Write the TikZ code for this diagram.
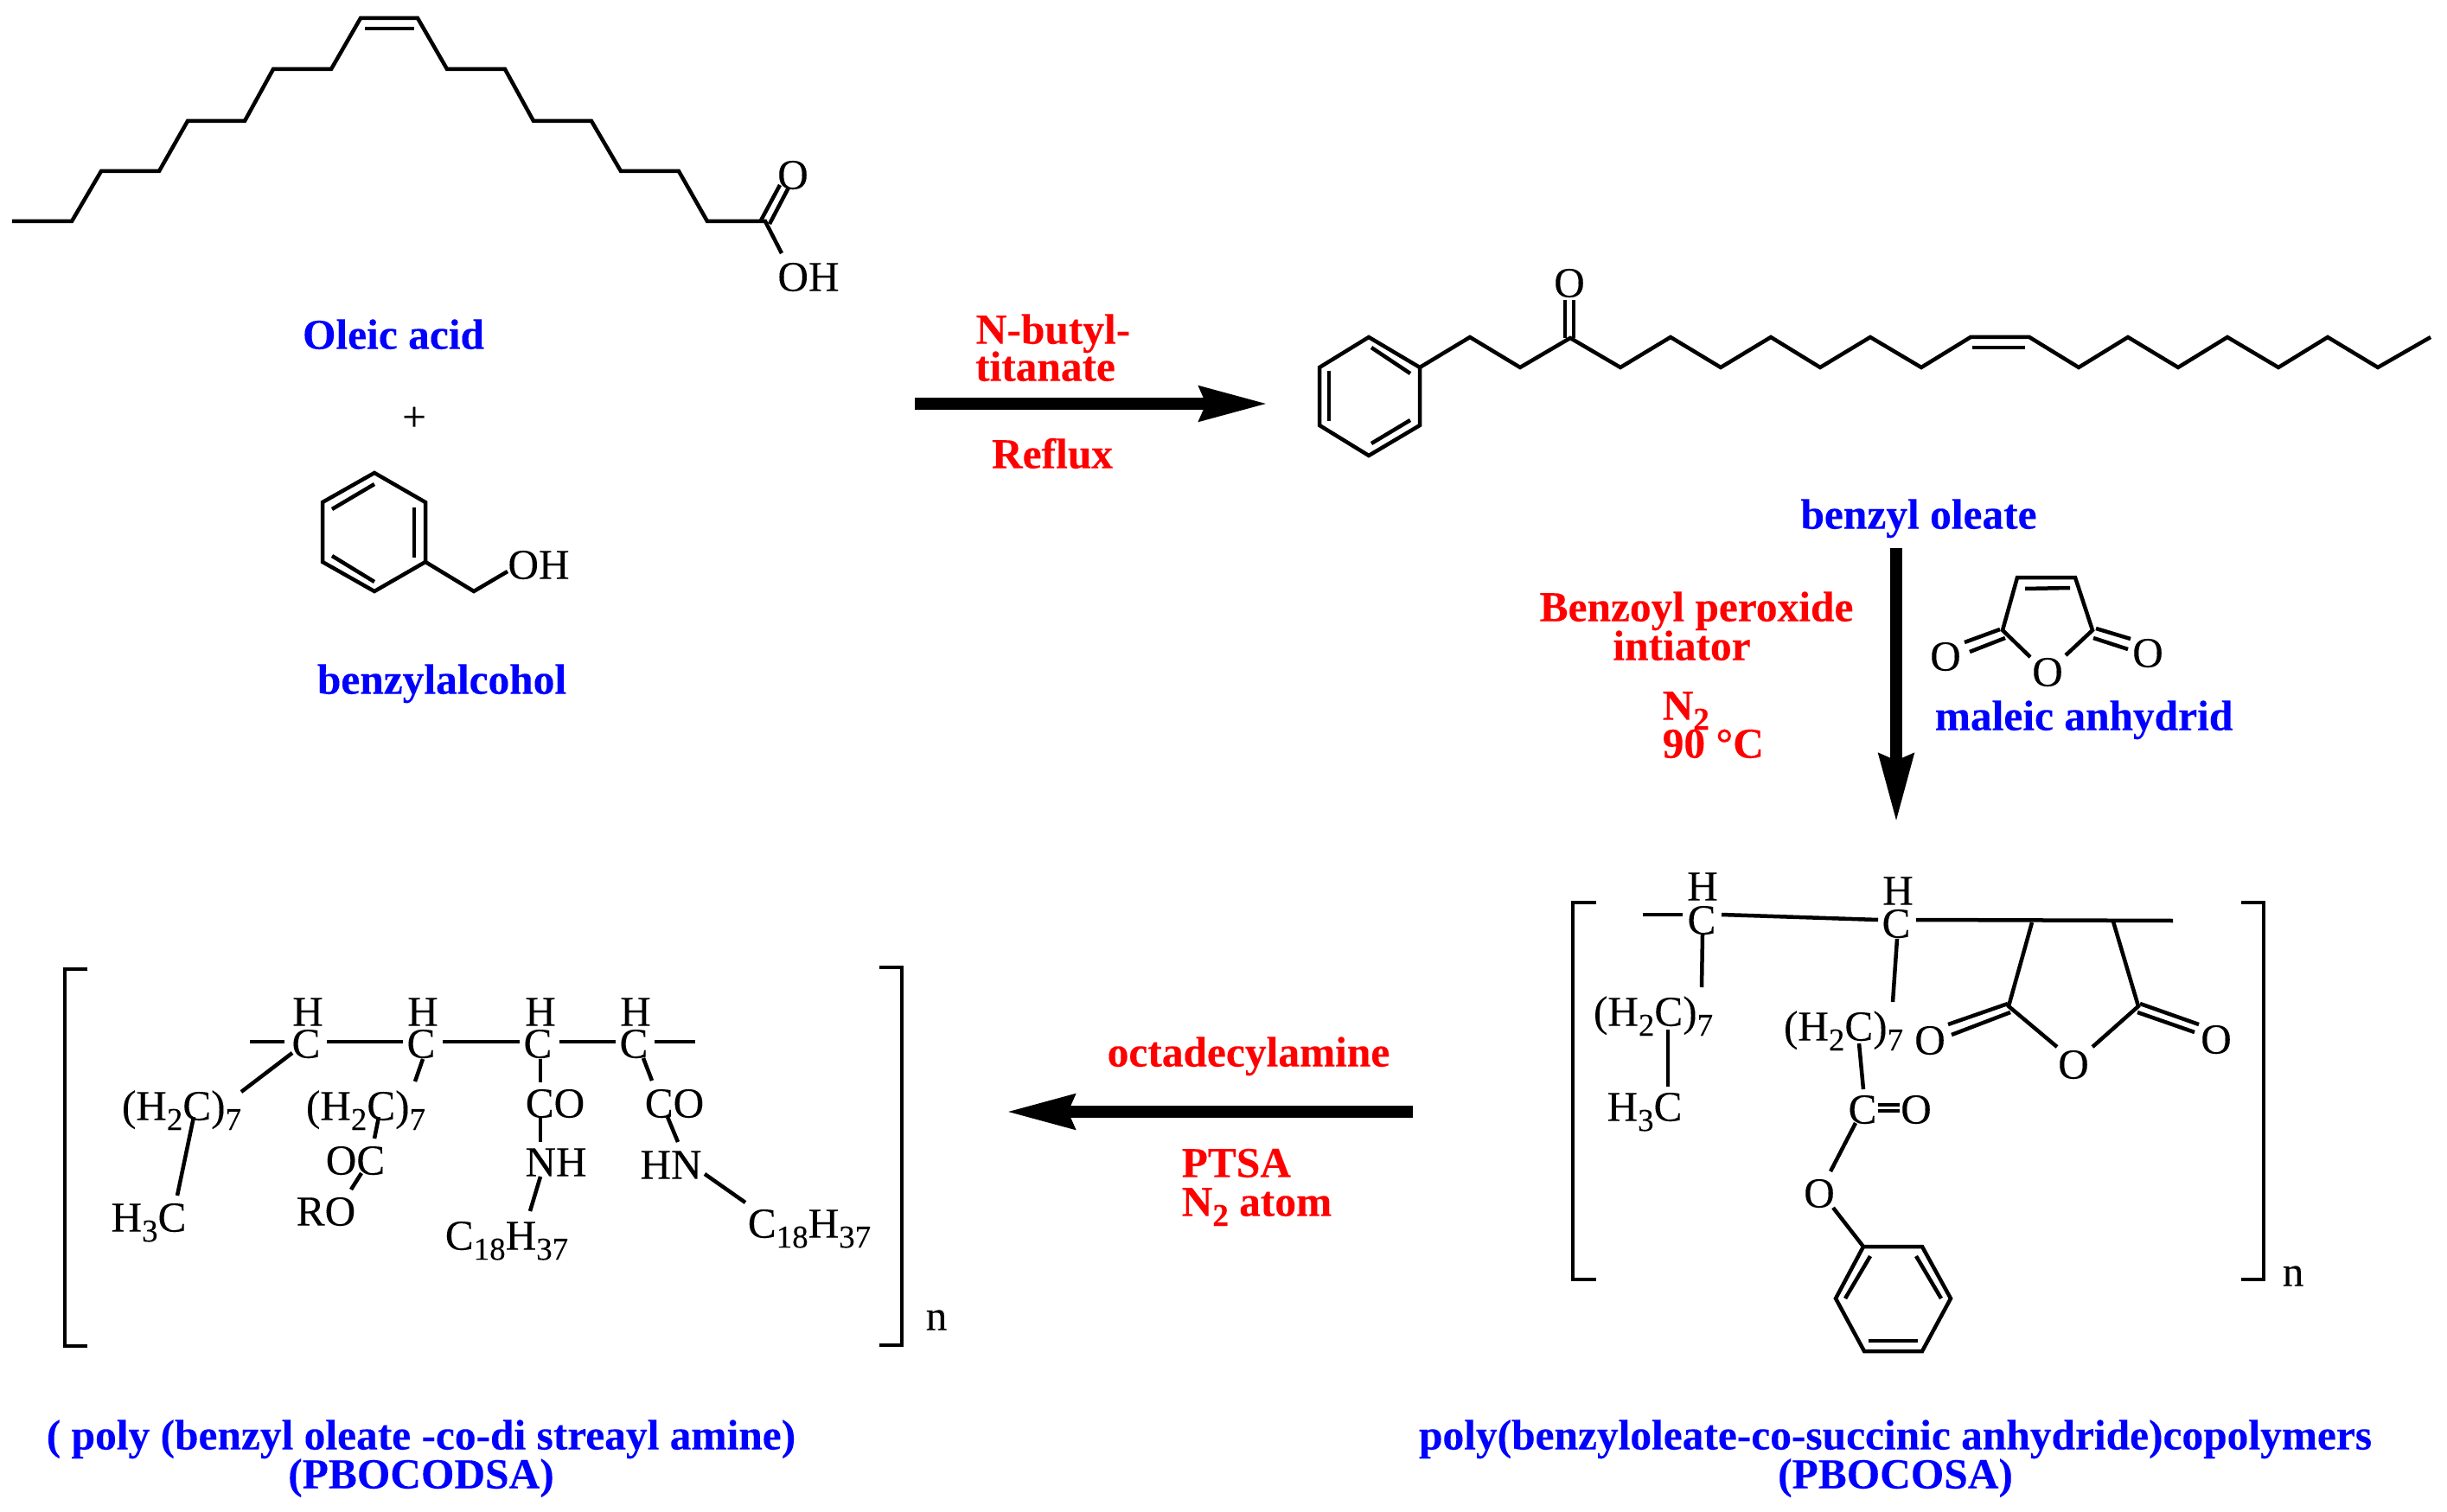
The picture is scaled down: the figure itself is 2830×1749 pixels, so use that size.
\documentclass[tikz,border=0pt]{standalone}
\usepackage{fontspec}
\setmainfont[FakeBold=0.15]{Liberation Serif}
\usetikzlibrary{arrows.meta}
\newcommand{\dn}[1]{\raisebox{-3.3pt}{\fontsize{10.5}{10.5}\selectfont #1}}
\tikzset{
    bond/.style={line width=0.045cm},
    bigarrow/.style={line width=0.14cm, -{Stealth[length=0.78cm, width=0.39cm, inset=0.07cm]}},
    atom/.style={inner sep=0pt, text height=10pt, text depth=0pt, font=\fontsize{14}{14}\selectfont},
    bluelabel/.style={atom, text=blue, font=\fontsize{14.05}{14}\selectfont\bfseries},
    redlabel/.style={atom, text=red, font=\fontsize{14.05}{14}\selectfont\bfseries}
}

\begin{document}
\begin{tikzpicture}[x=0.01cm, y=-0.01cm]
        \useasboundingbox (0,0) rectangle (2830,1749);

        % Oleic acid
        \foreach \i/\x/\y in {1/14/256, 2/83/256, 3/117/198, 4/184/198, 5/217/140, 6/283/140,
            7/316/80, 8/383/80, 9/417/21, 10/483/21, 11/517/80, 12/584/80, 13/617/140,
            14/684/140, 15/718/198, 16/785/198, 17/818/256, 18/885/256}
            \coordinate (ol\i) at (\x,\y);
        \coordinate (olinA) at (422,33);
        \coordinate (olinB) at (479,33);
        \coordinate (olcoA) at (880,255);
        \coordinate (olcoB) at (902,214);
        \coordinate (olcoC) at (890,259);
        \coordinate (olcoD) at (912,217);
        \coordinate (olohE) at (904,293);
        \node[atom] (olO) at (917,201) {O};
        \node[atom] (olOH) at (935,319) {OH};
        \draw[bond] (ol1) \foreach \i in {2,...,18} {-- (ol\i)} -- (olohE);
        \draw[bond] (olinA) -- (olinB);
        \draw[bond] (olcoA) -- (olcoB);
        \draw[bond] (olcoC) -- (olcoD);
        \node[bluelabel] (oleicname) at (455,386) {Oleic acid};
        \node[atom] (plus) at (479,481) {+};

        % Benzyl alcohol
        \foreach \i/\x/\y in {1/433/547, 2/492/581, 3/492/650, 4/433/684, 5/373/650, 6/373/581}
            \coordinate (ba\i) at (\x,\y);
        \coordinate (bach) at (548,684);
        \coordinate (baend) at (587,661);
        \coordinate (bainA) at (384,589);
        \coordinate (bainB) at (433,560);
        \coordinate (bainC) at (479,587);
        \coordinate (bainD) at (479,645);
        \coordinate (bainE) at (384,643);
        \coordinate (bainF) at (433,673);
        \draw[bond] (ba1) -- (ba2) -- (ba3) -- (ba4) -- (ba5) -- (ba6) -- cycle;
        \draw[bond] (ba3) -- (bach) -- (baend);
        \draw[bond] (bainA) -- (bainB);
        \draw[bond] (bainC) -- (bainD);
        \draw[bond] (bainE) -- (bainF);
        \node[atom] (baOH) at (623,652) {OH};
        \node[bluelabel] (baname) at (511,785) {benzylalcohol};

        % First step
        \coordinate (stepAs) at (1058,467);
        \coordinate (stepAe) at (1466,467);
        \draw[bigarrow] (stepAs) -- (stepAe);
        \node[redlabel] (butyl) at (1218,380) {N-butyl-};
        \node[redlabel] (titan) at (1209,423) {titanate};
        \node[redlabel] (reflux) at (1217,524) {Reflux};

        % Benzyl oleate
        \foreach \i/\x/\y in {1/1583/390, 2/1642/425, 3/1642/492, 4/1583/527, 5/1526/492, 6/1526/425}
            \coordinate (be\i) at (\x,\y);
        \foreach \i/\x/\y in {1/1700/390, 2/1758/425, 3/1816/391, 4/1874/425, 5/1932/390,
            6/1990/425, 7/2048/390, 8/2105/425, 9/2163/390, 10/2222/425, 11/2279/390,
            12/2347/390, 13/2404/425, 14/2461/390, 15/2519/425, 16/2576/390, 17/2635/425,
            18/2692/390, 19/2750/425, 20/2811/390}
            \coordinate (bo\i) at (\x,\y);
        \coordinate (beinA) at (1586,402);
        \coordinate (beinB) at (1631,432);
        \coordinate (beinC) at (1537,429);
        \coordinate (beinD) at (1537,487);
        \coordinate (beinE) at (1586,513);
        \coordinate (beinF) at (1631,486);
        \coordinate (boinA) at (2281,402);
        \coordinate (boinB) at (2342,402);
        \coordinate (bocoA) at (1810,391);
        \coordinate (bocoB) at (1810,347);
        \coordinate (bocoC) at (1820,391);
        \coordinate (bocoD) at (1820,347);
        \draw[bond] (be1) -- (be2) -- (be3) -- (be4) -- (be5) -- (be6) -- cycle;
        \draw[bond] (be2) \foreach \i in {1,...,20} {-- (bo\i)};
        \draw[bond] (beinA) -- (beinB);
        \draw[bond] (beinC) -- (beinD);
        \draw[bond] (beinE) -- (beinF);
        \draw[bond] (boinA) -- (boinB);
        \draw[bond] (bocoA) -- (bocoB);
        \draw[bond] (bocoC) -- (bocoD);
        \node[atom] (boO) at (1815,326) {O};
        \node[bluelabel] (boname) at (2219,594) {benzyl oleate};

        % Second step
        \coordinate (stepBs) at (2193,634);
        \coordinate (stepBe) at (2193,951);
        \draw[bigarrow] (stepBs) -- (stepBe);
        \node[redlabel] (benzoyl) at (1962,701) {Benzoyl peroxide};
        \node[redlabel] (initr) at (1945,746) {intiator};
        \node[redlabel, anchor=west] (ntwo) at (1922,815) {N\dn{2}};
        \node[redlabel, anchor=west] (ninety) at (1922,859) {90 °C};

        % Maleic anhydride
        \coordinate (maA) at (2333,668);
        \coordinate (maB) at (2400,668);
        \coordinate (maC) at (2316,729);
        \coordinate (maD) at (2420,729);
        \coordinate (maE) at (2348,760);
        \coordinate (maF) at (2389,758);
        \coordinate (mainA) at (2342,681);
        \coordinate (mainB) at (2394,680);
        \coordinate (malA) at (2272,743);
        \coordinate (malB) at (2313,728);
        \coordinate (malC) at (2278,754);
        \coordinate (malD) at (2319,738);
        \coordinate (marA) at (2424,727);
        \coordinate (marB) at (2464,739);
        \coordinate (marC) at (2421,738);
        \coordinate (marD) at (2461,751);
        \draw[bond] (maE) -- (maC) -- (maA) -- (maB) -- (maD) -- (maF);
        \draw[bond] (mainA) -- (mainB);
        \draw[bond] (malA) -- (malB);
        \draw[bond] (malC) -- (malD);
        \draw[bond] (marA) -- (marB);
        \draw[bond] (marC) -- (marD);
        \node[atom] (maOl) at (2250,758) {O};
        \node[atom] (maOc) at (2368,776) {O};
        \node[atom] (maOr) at (2484,754) {O};
        \node[bluelabel] (maname) at (2410,827) {maleic anhydrid};

        % PBOCOSA brackets
        \coordinate (rbA) at (1846,1044);
        \coordinate (rbB) at (1819,1044);
        \coordinate (rbC) at (1819,1480);
        \coordinate (rbD) at (1846,1480);
        \coordinate (rbE) at (2592,1044);
        \coordinate (rbF) at (2618,1044);
        \coordinate (rbG) at (2618,1480);
        \coordinate (rbH) at (2592,1480);
        \draw[bond] (rbA) -- (rbB) -- (rbC) -- (rbD);
        \draw[bond] (rbE) -- (rbF) -- (rbG) -- (rbH);
        \node[atom] (rbn) at (2652,1470) {n};

        % PBOCOSA backbone and ring
        \node[atom] (rHa) at (1969,1024) {H};
        \node[atom] (rCa) at (1968,1063) {C};
        \node[atom] (rHb) at (2195,1029) {H};
        \node[atom] (rCb) at (2193,1067) {C};
        \coordinate (rdA) at (1900,1058);
        \coordinate (rdB) at (1946,1058);
        \coordinate (rdC) at (1991,1058);
        \coordinate (rdD) at (2172,1064);
        \coordinate (rdE) at (2216,1064);
        \coordinate (rdF) at (2513,1065);
        \draw[bond] (rdA) -- (rdB);
        \draw[bond] (rdC) -- (rdD);
        \draw[bond] (rdE) -- (rdF);
        \coordinate (riA) at (2350,1067);
        \coordinate (riB) at (2444,1066);
        \coordinate (riC) at (2323,1164);
        \coordinate (riD) at (2473,1164);
        \coordinate (riE) at (2379,1211);
        \coordinate (riF) at (2420,1211);
        \draw[bond] (riA) -- (riC) -- (riE);
        \draw[bond] (riB) -- (riD) -- (riF);
        \coordinate (rlA) at (2322,1161);
        \coordinate (rlB) at (2253,1185);
        \coordinate (rlC) at (2325,1171);
        \coordinate (rlD) at (2257,1197);
        \coordinate (rrA) at (2475,1161);
        \coordinate (rrB) at (2543,1185);
        \coordinate (rrC) at (2472,1171);
        \coordinate (rrD) at (2538,1194);
        \draw[bond] (rlA) -- (rlB);
        \draw[bond] (rlC) -- (rlD);
        \draw[bond] (rrA) -- (rrB);
        \draw[bond] (rrC) -- (rrD);
        \node[atom] (rOc) at (2398,1230) {O};
        \node[atom] (rOl) at (2232,1202) {O};
        \node[atom] (rOr) at (2563,1201) {O};

        % PBOCOSA side chains
        \node[atom] (rcha) at (1912,1169) {(H\dn{2}C)\dn{7}};
        \node[atom] (rmet) at (1902,1279) {H\dn{3}C};
        \node[atom] (rchb) at (2132,1186) {(H\dn{2}C)\dn{7}};
        \node[atom] (rCo) at (2154,1282) {C};
        \node[atom] (rOo) at (2216,1282) {O};
        \node[atom] (rOe) at (2104,1379) {O};
        \coordinate (rsA) at (1969,1081);
        \coordinate (rsB) at (1968,1142);
        \coordinate (rsC) at (1929,1191);
        \coordinate (rsD) at (1929,1257);
        \coordinate (rsE) at (2194,1086);
        \coordinate (rsF) at (2189,1159);
        \coordinate (rsG) at (2150,1207);
        \coordinate (rsH) at (2155,1260);
        \coordinate (rsI) at (2172,1278);
        \coordinate (rsJ) at (2197,1278);
        \coordinate (rsK) at (2172,1285);
        \coordinate (rsL) at (2197,1285);
        \coordinate (rsM) at (2146,1299);
        \coordinate (rsN) at (2117,1355);
        \coordinate (rsO) at (2120,1397);
        \draw[bond] (rsA) -- (rsB);
        \draw[bond] (rsC) -- (rsD);
        \draw[bond] (rsE) -- (rsF);
        \draw[bond] (rsG) -- (rsH);
        \draw[bond] (rsI) -- (rsJ);
        \draw[bond] (rsK) -- (rsL);
        \draw[bond] (rsM) -- (rsN);
        \foreach \i/\x/\y in {1/2155/1442, 2/2223/1442, 3/2256/1502, 4/2223/1563, 5/2156/1563, 6/2123/1502}
            \coordinate (rp\i) at (\x,\y);
        \coordinate (rpinA) at (2163,1453);
        \coordinate (rpinB) at (2134,1502);
        \coordinate (rpinC) at (2216,1453);
        \coordinate (rpinD) at (2245,1502);
        \coordinate (rpinE) at (2161,1551);
        \coordinate (rpinF) at (2218,1551);
        \draw[bond] (rsO) -- (rp1);
        \draw[bond] (rp1) -- (rp2) -- (rp3) -- (rp4) -- (rp5) -- (rp6) -- cycle;
        \draw[bond] (rpinA) -- (rpinB);
        \draw[bond] (rpinC) -- (rpinD);
        \draw[bond] (rpinE) -- (rpinF);
        \node[bluelabel] (rname) at (2192,1659) {poly(benzyloleate-co-succinic anhydride)copolymers};
        \node[bluelabel] (rshort) at (2192,1704) {(PBOCOSA)};

        % Third step
        \coordinate (stepCs) at (1634,1286);
        \coordinate (stepCe) at (1164,1286);
        \draw[bigarrow] (stepCs) -- (stepCe);
        \node[redlabel] (octa) at (1444,1216) {octadecylamine};
        \node[redlabel, anchor=west] (ptsa) at (1366,1344) {PTSA};
        \node[redlabel, anchor=west] (ntwoatom) at (1366,1389) {N\dn{2} atom};

        % PBOCODSA brackets
        \coordinate (lbA) at (101,1121);
        \coordinate (lbB) at (75,1121);
        \coordinate (lbC) at (75,1557);
        \coordinate (lbD) at (101,1557);
        \coordinate (lbE) at (1017,1119);
        \coordinate (lbF) at (1043,1119);
        \coordinate (lbG) at (1043,1556);
        \coordinate (lbH) at (1017,1556);
        \draw[bond] (lbA) -- (lbB) -- (lbC) -- (lbD);
        \draw[bond] (lbE) -- (lbF) -- (lbG) -- (lbH);
        \node[atom] (lbn) at (1083,1521) {n};

        % PBOCODSA backbone
        \node[atom] (lHa) at (356,1169) {H};
        \node[atom] (lCa) at (354,1206) {C};
        \node[atom] (lHb) at (489,1169) {H};
        \node[atom] (lCb) at (487,1206) {C};
        \node[atom] (lHc) at (625,1169) {H};
        \node[atom] (lCc) at (622,1206) {C};
        \node[atom] (lHd) at (735,1169) {H};
        \node[atom] (lCd) at (733,1206) {C};
        \foreach \n/\x in {A/289, B/329, C/378, D/466, E/512, F/601, G/647, H/712, I/757, J/804}
            \coordinate (ld\n) at (\x,1205);
        \draw[bond] (ldA) -- (ldB);
        \draw[bond] (ldC) -- (ldD);
        \draw[bond] (ldE) -- (ldF);
        \draw[bond] (ldG) -- (ldH);
        \draw[bond] (ldI) -- (ldJ);

        % PBOCODSA side chains
        \node[atom] (lcha) at (210,1278) {(H\dn{2}C)\dn{7}};
        \node[atom] (lmet) at (172,1407) {H\dn{3}C};
        \node[atom] (lchb) at (423,1278) {(H\dn{2}C)\dn{7}};
        \node[atom] (lOC) at (411,1341) {OC};
        \node[atom] (lRO) at (377,1400) {RO};
        \node[atom] (lCOa) at (642,1275) {CO};
        \node[atom] (lNH) at (643,1343) {NH};
        \node[atom] (lCaH) at (586,1428) {C\dn{18}H\dn{37}};
        \node[atom] (lCOb) at (780,1275) {CO};
        \node[atom] (lHN) at (776,1346) {HN};
        \node[atom] (lCbH) at (936,1414) {C\dn{18}H\dn{37}};
        \coordinate (lsA) at (338,1218);
        \coordinate (lsB) at (279,1263);
        \coordinate (lsC) at (224,1292);
        \coordinate (lsD) at (205,1383);
        \coordinate (lsE) at (489,1225);
        \coordinate (lsF) at (480,1251);
        \coordinate (lsG) at (438,1292);
        \coordinate (lsH) at (433,1317);
        \coordinate (lsI) at (418,1357);
        \coordinate (lsJ) at (406,1376);
        \coordinate (lsK) at (625,1225);
        \coordinate (lsL) at (625,1252);
        \coordinate (lsM) at (625,1292);
        \coordinate (lsN) at (625,1321);
        \coordinate (lsO) at (625,1361);
        \coordinate (lsP) at (613,1401);
        \coordinate (lsQ) at (744,1224);
        \coordinate (lsR) at (754,1250);
        \coordinate (lsS) at (772,1292);
        \coordinate (lsT) at (784,1321);
        \coordinate (lsU) at (815,1358);
        \coordinate (lsV) at (862,1391);
        \draw[bond] (lsA) -- (lsB);
        \draw[bond] (lsC) -- (lsD);
        \draw[bond] (lsE) -- (lsF);
        \draw[bond] (lsG) -- (lsH);
        \draw[bond] (lsI) -- (lsJ);
        \draw[bond] (lsK) -- (lsL);
        \draw[bond] (lsM) -- (lsN);
        \draw[bond] (lsO) -- (lsP);
        \draw[bond] (lsQ) -- (lsR);
        \draw[bond] (lsS) -- (lsT);
        \draw[bond] (lsU) -- (lsV);
        \node[bluelabel] (lname) at (487,1659) {( poly (benzyl oleate -co-di streayl amine)};
        \node[bluelabel] (lshort) at (487,1704) {(PBOCODSA)};

    \end{tikzpicture}
\end{document}
